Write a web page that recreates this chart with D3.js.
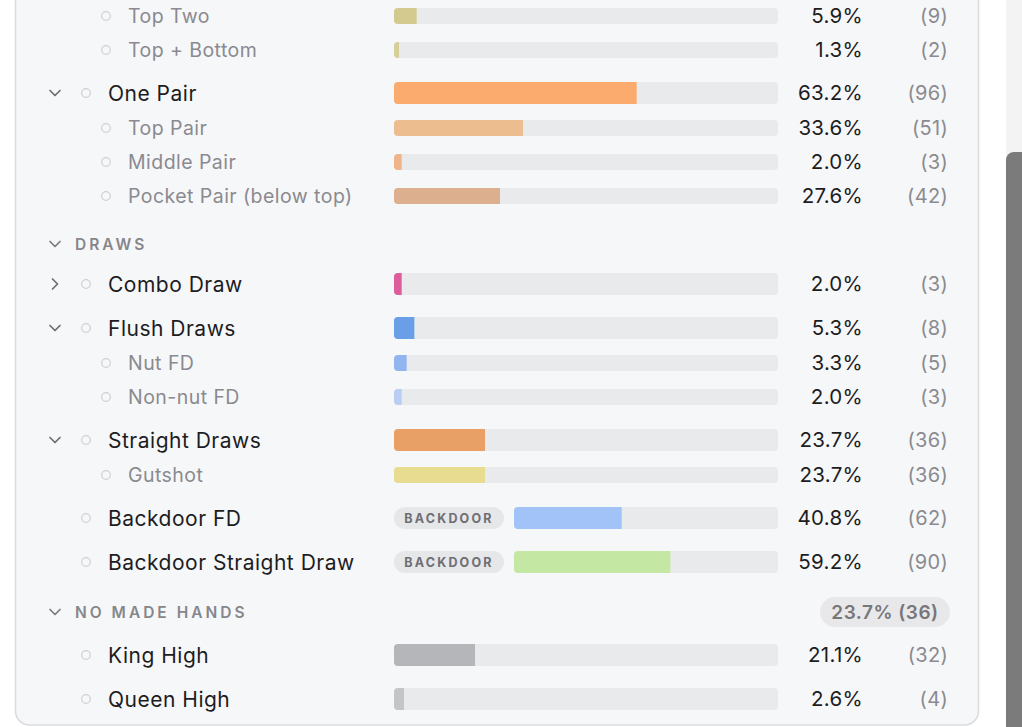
<!DOCTYPE html>
<html>
<head>
<meta charset="utf-8">
<script src="https://cdn.jsdelivr.net/npm/d3@7"></script>
<style>
  html, body { margin: 0; padding: 0; background: #ffffff; overflow: hidden; }
  svg { display: block; font-family: Inter, "Noto Sans", sans-serif; }
</style>
</head>
<body>
<svg id="chart" width="1022" height="727"></svg>
<script>
// ---- data ----
const categories = ["Top Two", "Top + Bottom", "One Pair", "Top Pair", "Middle Pair", "Pocket Pair (below top)",
  "Combo Draw", "Flush Draws", "Nut FD", "Non-nut FD", "Straight Draws", "Gutshot",
  "Backdoor FD", "Backdoor Straight Draw", "King High", "Queen High"];
const percents = [5.9, 1.3, 63.2, 33.6, 2.0, 27.6, 2.0, 5.3, 3.3, 2.0, 23.7, 23.7, 40.8, 59.2, 21.1, 2.6];
const counts = [9, 2, 96, 51, 3, 42, 3, 8, 5, 3, 36, 36, 62, 90, 32, 4];
const depths = [2, 2, 1, 2, 2, 2, 1, 1, 2, 2, 1, 2, 1, 1, 1, 1];
const chevrons = [null, null, "down", null, null, null, "right", "down", null, null, "down", null, null, null, null, null];
const badges = [null, null, null, null, null, null, null, null, null, null, null, null, "BACKDOOR", "BACKDOOR", null, null];
// section headers: inserted before the category index given
const sectionNames = ["DRAWS", "NO MADE HANDS"];
const sectionBefore = [6, 14];
const sectionPercents = [null, 23.7];
const sectionCounts = [null, 36];
// palette
const barColors = ["#d4c98e", "#d6cf9a", "#fcab6e", "#ecbd8f", "#efb48a", "#dcb08e",
  "#dc5c9c", "#6a9fe8", "#91b5ef", "#b9cef2", "#e9a066", "#e8dc90",
  "#a2c3f8", "#c4e8a3", "#b5b6ba", "#c4c5c8"];

// ---- layout ----
const W = 1022, H = 727;
const svg = d3.select("#chart");

svg.append("rect").attr("x", 0).attr("y", 0).attr("width", W).attr("height", H).attr("fill", "#ffffff");
svg.append("rect").attr("x", 15.5).attr("y", -30).attr("width", 963).attr("height", 755)
  .attr("rx", 14).attr("fill", "#f6f7f9").attr("stroke", "#d9dbde").attr("stroke-width", 1.5);
// scrollbar
svg.append("rect").attr("x", 1006).attr("y", 0).attr("width", 16).attr("height", H).attr("fill", "#f3f3f3");
svg.append("path").attr("d", "M1006,727 L1006,160 A8,8 0 0 1 1014,152 L1022,152 L1022,727 Z").attr("fill", "#7b7b7b");

const rows = [];
categories.forEach((c, i) => {
  const s = sectionBefore.indexOf(i);
  if (s >= 0) rows.push({ type: "header", name: sectionNames[s], pct: sectionPercents[s], count: sectionCounts[s] });
  rows.push({ type: depths[i] === 1 ? "main" : "sub", name: c, pct: percents[i], count: counts[i],
    chevron: chevrons[i], badge: badges[i], color: barColors[i] });
});
const halfAbove = { main: 22, sub: 13, header: 27 };
const halfBelow = { main: 22, sub: 21, header: 18 };
let y = 16;
rows.forEach((r, i) => {
  if (i > 0) {
    const prev = rows[i - 1];
    let gap = halfBelow[prev.type] + halfAbove[r.type];
    if (r.type === "header" && r.pct != null) gap += 1;
    if (prev.type === "header" && prev.pct != null) gap += 3;
    y += gap;
  }
  r.cy = y;
});

const trackX0 = 394, trackX1 = 778;
const badgeW = 110, badgeGap = 10;
const xFull = d3.scaleLinear().domain([0, 100]).range([0, trackX1 - trackX0]);
const xBadge = d3.scaleLinear().domain([0, 100]).range([0, trackX1 - trackX0 - badgeW - badgeGap]);

const defs = svg.append("defs");

function chevron(g, cx, cy, dir, color) {
  const p = dir === "down"
    ? `M${cx - 5},${cy - 2.5} L${cx},${cy + 2.5} L${cx + 5},${cy - 2.5}`
    : `M${cx - 2.5},${cy - 5} L${cx + 2.5},${cy} L${cx - 2.5},${cy + 5}`;
  g.append("path").attr("d", p).attr("fill", "none").attr("stroke", color)
    .attr("stroke-width", 1.7).attr("stroke-linecap", "round").attr("stroke-linejoin", "round");
}

rows.forEach((r, i) => {
  const g = svg.append("g");
  if (r.type === "header") {
    chevron(g, 55, r.cy, "down", "#7b7b80");
    g.append("text").attr("x", 75).attr("y", r.cy).attr("dy", "0.36em")
      .attr("font-size", 15.5).attr("font-weight", 600).attr("letter-spacing", 3)
      .attr("fill", "#86868b").text(r.name);
    if (r.pct != null) {
      const pill = g.append("g");
      pill.append("rect").attr("x", 820).attr("y", r.cy - 15).attr("width", 130).attr("height", 30)
        .attr("rx", 15).attr("fill", "#e8e8ea");
      pill.append("text").attr("x", 885).attr("y", r.cy).attr("dy", "0.36em").attr("text-anchor", "middle")
        .attr("font-size", 19).attr("font-weight", 600).attr("letter-spacing", 0.5).attr("fill", "#76767b")
        .text(`${r.pct.toFixed(1)}% (${r.count})`);
    }
    return;
  }
  const main = r.type === "main";
  if (r.chevron) chevron(g, 55, r.cy, r.chevron, "#6e6e73");
  g.append("circle").attr("cx", main ? 86 : 106).attr("cy", r.cy).attr("r", 4.3)
    .attr("fill", "none").attr("stroke", "#cfd0d4").attr("stroke-width", 1.2);
  g.append("text").attr("x", main ? 108 : 128).attr("y", r.cy).attr("dy", "0.36em")
    .attr("font-size", main ? 21 : 19.5).attr("letter-spacing", main ? 0.5 : 0.45)
    .attr("fill", main ? "#1d1d1f" : "#8a8a8f").text(r.name);

  const bh = main ? 22 : 16;
  let tx = trackX0, scale = xFull;
  if (r.badge) {
    g.append("rect").attr("x", trackX0).attr("y", r.cy - 11).attr("width", badgeW).attr("height", 22)
      .attr("rx", 11).attr("fill", "#e6e7e9");
    g.append("text").attr("x", trackX0 + badgeW / 2).attr("y", r.cy).attr("dy", "0.36em")
      .attr("text-anchor", "middle").attr("font-size", 12.5).attr("font-weight", 700)
      .attr("letter-spacing", 2.2).attr("fill", "#6e6e73").text(r.badge);
    tx = trackX0 + badgeW + badgeGap;
    scale = xBadge;
  }
  const tw = scale.range()[1];
  const clipId = "clip" + i;
  defs.append("clipPath").attr("id", clipId).append("rect")
    .attr("x", tx).attr("y", r.cy - bh / 2).attr("width", tw).attr("height", bh).attr("rx", 4);
  g.append("rect").attr("x", tx).attr("y", r.cy - bh / 2).attr("width", tw).attr("height", bh)
    .attr("rx", 4).attr("fill", "#e9eaec");
  g.append("rect").attr("clip-path", `url(#${clipId})`).attr("x", tx).attr("y", r.cy - bh / 2)
    .attr("width", scale(r.pct)).attr("height", bh).attr("fill", r.color);

  g.append("text").attr("x", 863).attr("y", r.cy).attr("dy", "0.36em").attr("text-anchor", "end")
    .attr("font-size", 20.5).attr("letter-spacing", 0.3).attr("fill", "#1d1d1f").text(r.pct.toFixed(1) + "%");
  g.append("text").attr("x", 948).attr("y", r.cy).attr("dy", "0.36em").attr("text-anchor", "end")
    .attr("font-size", 20).attr("letter-spacing", 0.3).attr("fill", "#8a8a8f").text(`(${r.count})`);
});
</script>
</body>
</html>
